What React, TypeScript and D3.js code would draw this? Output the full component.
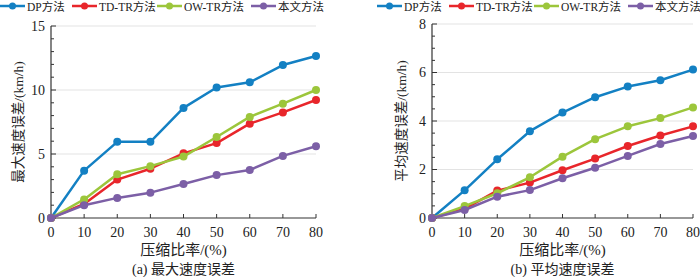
import React from "react";
import * as d3 from "d3";

const compression = [0, 10, 20, 30, 40, 50, 60, 70, 80];
const seriesNames = ["DP方法", "TD-TR方法", "OW-TR方法", "本文方法"];
const seriesColors = ["#1380c3", "#e8262b", "#9cc63b", "#7c5fa6"];

const maxDP = [0, 3.7, 5.95, 5.95, 8.6, 10.2, 10.6, 11.95, 12.65];
const maxTDTR = [0, 1.1, 3.0, 3.85, 5.05, 5.85, 7.37, 8.25, 9.22];
const maxOWTR = [0, 1.45, 3.42, 4.05, 4.8, 6.33, 7.9, 8.93, 10.0];
const maxOurs = [0, 1.0, 1.57, 1.98, 2.65, 3.35, 3.75, 4.85, 5.6];

const avgDP = [0, 1.14, 2.42, 3.58, 4.35, 4.98, 5.42, 5.68, 6.12];
const avgTDTR = [0, 0.38, 1.13, 1.46, 1.97, 2.45, 2.97, 3.4, 3.78];
const avgOWTR = [0, 0.49, 1.02, 1.68, 2.53, 3.25, 3.78, 4.12, 4.56];
const avgOurs = [0, 0.33, 0.88, 1.15, 1.64, 2.07, 2.56, 3.05, 3.38];

const xTicks = [0, 10, 20, 30, 40, 50, 60, 70, 80];
const leftYTicks = [0, 5, 10, 15];
const rightYTicks = [0, 2, 4, 6, 8];

const xTitle = "压缩比率/(%)";

const FONT = "'Liberation Serif', 'Times New Roman', 'Noto Sans CJK SC', serif";

type PanelProps = {
  x0: number;
  x1: number;
  yTop: number;
  yBottom: number;
  yMax: number;
  yTicks: number[];
  minorStep: number;
  data: number[][];
  yTitle: string;
  yTitleX: number;
  caption: string;
  legendX: number;
};

const legendOffsets = [0, 72, 157, 251];

function Panel(p: PanelProps) {
  const x = d3.scaleLinear().domain([0, 80]).range([p.x0, p.x1]);
  const y = d3.scaleLinear().domain([0, p.yMax]).range([p.yBottom, p.yTop]);
  const line = d3
    .line<number>()
    .x((_, i) => x(compression[i]))
    .y((d) => y(d));
  const minors = d3.range(0, p.yMax + 1e-9, p.minorStep);
  const cx = (p.x0 + p.x1) / 2;
  const cy = (p.yTop + p.yBottom) / 2;
  return (
    <g>
      {/* legend */}
      {seriesNames.map((name, i) => {
        const lx = p.legendX + legendOffsets[i];
        return (
          <g key={name}>
            <line x1={lx} x2={lx + 25} y1={6} y2={6} stroke={seriesColors[i]} strokeWidth={2.5} />
            <circle cx={lx + 12.5} cy={6} r={3.5} fill={seriesColors[i]} />
            <text x={lx + 27} y={10.5} fontSize={11.5} fontFamily={FONT} fill="#222">
              {name}
            </text>
          </g>
        );
      })}
      {/* grid */}
      {p.yTicks.filter((t) => t > 0).map((t) => (
        <line key={"g" + t} x1={p.x0} x2={p.x1} y1={y(t)} y2={y(t)} stroke="#e3e3e3" strokeWidth={1} />
      ))}
      {/* axes */}
      <line x1={p.x0} x2={p.x0} y1={p.yTop} y2={p.yBottom} stroke="#333" strokeWidth={1.2} />
      <line x1={p.x0} x2={p.x1} y1={p.yBottom} y2={p.yBottom} stroke="#333" strokeWidth={1.2} />
      {minors.map((t) => (
        <line
          key={"m" + t}
          x1={p.x0}
          x2={p.x0 + (p.yTicks.includes(t) ? 5 : 3)}
          y1={y(t)}
          y2={y(t)}
          stroke="#333"
          strokeWidth={1}
        />
      ))}
      {xTicks.map((t) => (
        <line key={"xt" + t} x1={x(t)} x2={x(t)} y1={p.yBottom} y2={p.yBottom - 4} stroke="#333" strokeWidth={1} />
      ))}
      {p.yTicks.map((t) => (
        <text
          key={"yl" + t}
          x={p.x0 - 6}
          y={y(t)}
          dy="0.35em"
          textAnchor="end"
          fontSize={14}
          fontFamily={FONT}
          fill="#222"
        >
          {t}
        </text>
      ))}
      {xTicks.map((t) => (
        <text
          key={"xl" + t}
          x={x(t)}
          y={p.yBottom + 19}
          textAnchor="middle"
          fontSize={14}
          fontFamily={FONT}
          fill="#222"
        >
          {t}
        </text>
      ))}
      {/* titles */}
      <text
        transform={`translate(${p.yTitleX},${cy}) rotate(-90)`}
        textAnchor="middle"
        fontSize={13.5}
        fontFamily={FONT}
        fill="#222"
      >
        {p.yTitle}
      </text>
      <text x={cx} y={p.yBottom + 37} textAnchor="middle" fontSize={15} fontFamily={FONT} fill="#222">
        {xTitle}
      </text>
      <text x={cx} y={p.yBottom + 56} textAnchor="middle" fontSize={14} fontFamily={FONT} fill="#222">
        {p.caption}
      </text>
      {/* series */}
      {p.data.map((s, i) => (
        <g key={"s" + i}>
          <path d={line(s) || ""} fill="none" stroke={seriesColors[i]} strokeWidth={2.5} strokeLinejoin="round" />
          {s.map((v, j) => (
            <circle key={j} cx={x(compression[j])} cy={y(v)} r={4} fill={seriesColors[i]} />
          ))}
        </g>
      ))}
    </g>
  );
}

export default function App() {
  return (
    <svg
      width={700}
      height={277}
      style={{ position: "absolute", left: 0, top: 0, background: "#fff" }}
    >
      <rect width={700} height={277} fill="#fff" />
      <Panel
        x0={51}
        x1={316}
        yTop={26}
        yBottom={218}
        yMax={15}
        yTicks={leftYTicks}
        minorStep={1}
        data={[maxDP, maxTDTR, maxOWTR, maxOurs]}
        yTitle="最大速度误差/(km/h)"
        yTitleX={23}
        caption="(a) 最大速度误差"
        legendX={0}
      />
      <Panel
        x0={432}
        x1={693}
        yTop={24}
        yBottom={218}
        yMax={8}
        yTicks={rightYTicks}
        minorStep={0.5}
        data={[avgDP, avgTDTR, avgOWTR, avgOurs]}
        yTitle="平均速度误差/(km/h)"
        yTitleX={406}
        caption="(b) 平均速度误差"
        legendX={377}
      />
    </svg>
  );
}
